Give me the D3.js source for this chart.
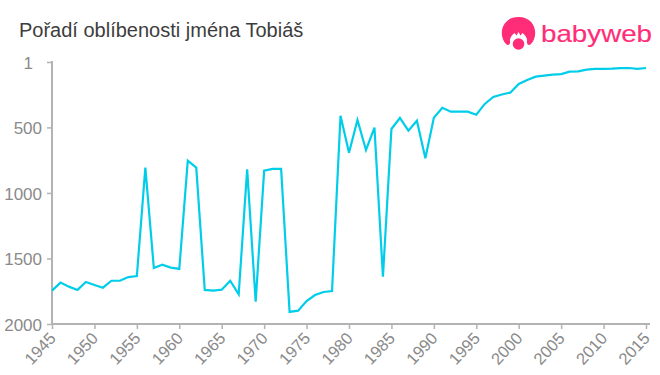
<!DOCTYPE html>
<html><head><meta charset="utf-8">
<script src="https://cdn.jsdelivr.net/npm/d3@7/dist/d3.min.js"></script>
<style>html,body{margin:0;padding:0;background:#fff}svg{display:block}text{font-family:"Liberation Sans",Arial,sans-serif}</style>
</head><body><svg id="c" width="660" height="375"></svg>
<script>
const titleText = "Pořadí oblíbenosti jména Tobiáš";
const logoText = "babyweb";
const years = d3.range(1945, 2016);
const ranks = [1745,1684,1715,1740,1680,1702,1723,1670,1670,1642,1634,807,1573,1548,1570,1580,754,807,1740,1746,1738,1670,1773,820,1830,830,817,817,1908,1898,1825,1779,1756,1748,411,693,444,672,502,1639,512,428,525,449,736,426,350,380,380,380,403,321,268,249,235,169,138,113,105,98,93,75,72,59,54,54,52,47,47,54,47];
const yTicks = [1,500,1000,1500,2000];
const xTicks = d3.range(1945, 2016, 5);

const svg = d3.select("#c");
const x = d3.scaleLinear().domain([1945,2015]).range([52,646]);
const y = d3.scaleLinear().domain([1,2000]).range([62,324]);

svg.append("text").attr("x",19).attr("y",37).attr("font-size",20).attr("fill","#3d3d3d").text(titleText);

const gy = svg.append("g").attr("transform","translate(52,0)")
  .call(d3.axisLeft(y).tickValues(yTicks).tickFormat(d3.format("d")).tickSize(5).tickSizeOuter(0));
const gx = svg.append("g").attr("transform","translate(0,324)")
  .call(d3.axisBottom(x).tickValues(xTicks).tickFormat(d3.format("d")).tickSize(5).tickSizeOuter(0));
svg.selectAll(".domain").remove();
svg.append("line").attr("x1",52).attr("x2",52).attr("y1",61).attr("y2",325).attr("stroke","#b3b3b3").attr("stroke-width",2);
svg.append("line").attr("x1",51).attr("x2",650).attr("y1",324).attr("y2",324).attr("stroke","#b3b3b3").attr("stroke-width",2);
svg.selectAll(".tick line").attr("stroke","#b3b3b3").attr("stroke-width",1.5);
gy.selectAll(".tick text").attr("x",d=>d===1?-19:-10).attr("dy","0.36em").attr("font-size",17).attr("fill","#8a8a8a");
gx.selectAll(".tick text").attr("font-size",16.5).attr("fill","#8a8a8a")
  .attr("text-anchor","end").attr("dy",0).attr("y",0)
  .attr("transform","translate(1,12) rotate(-47)").attr("dominant-baseline","middle");

const line = d3.line().x((d,i)=>x(years[i])).y(d=>y(d));
svg.append("path").datum(ranks).attr("d",line).attr("fill","none").attr("stroke","#00cdea").attr("stroke-width",2.2).attr("stroke-linejoin","miter");

const logo = svg.append("g");
logo.append("path").attr("fill","#ff2d78").attr("d","M506 44 C498 36 501 17 518.5 17 C536 17 539 36 531 44 C529 46 526.5 45 527 41 C527.5 38 525 35 522.5 33 L520.5 35.5 L518.5 32 L516.5 35.5 L514.5 33 C512 35 509.5 38 510 41 C510.5 45 508 46 506 44 Z");
logo.append("circle").attr("cx",518.5).attr("cy",44).attr("r",5.8).attr("fill","#ff2d78");
logo.append("text").attr("x",541).attr("y",42).attr("font-family","Lato").attr("font-size",24).attr("fill","#ff2d78").attr("stroke","#ff2d78").attr("stroke-width",0.15).attr("textLength",111).attr("lengthAdjust","spacingAndGlyphs").text(logoText);
</script></body></html>
